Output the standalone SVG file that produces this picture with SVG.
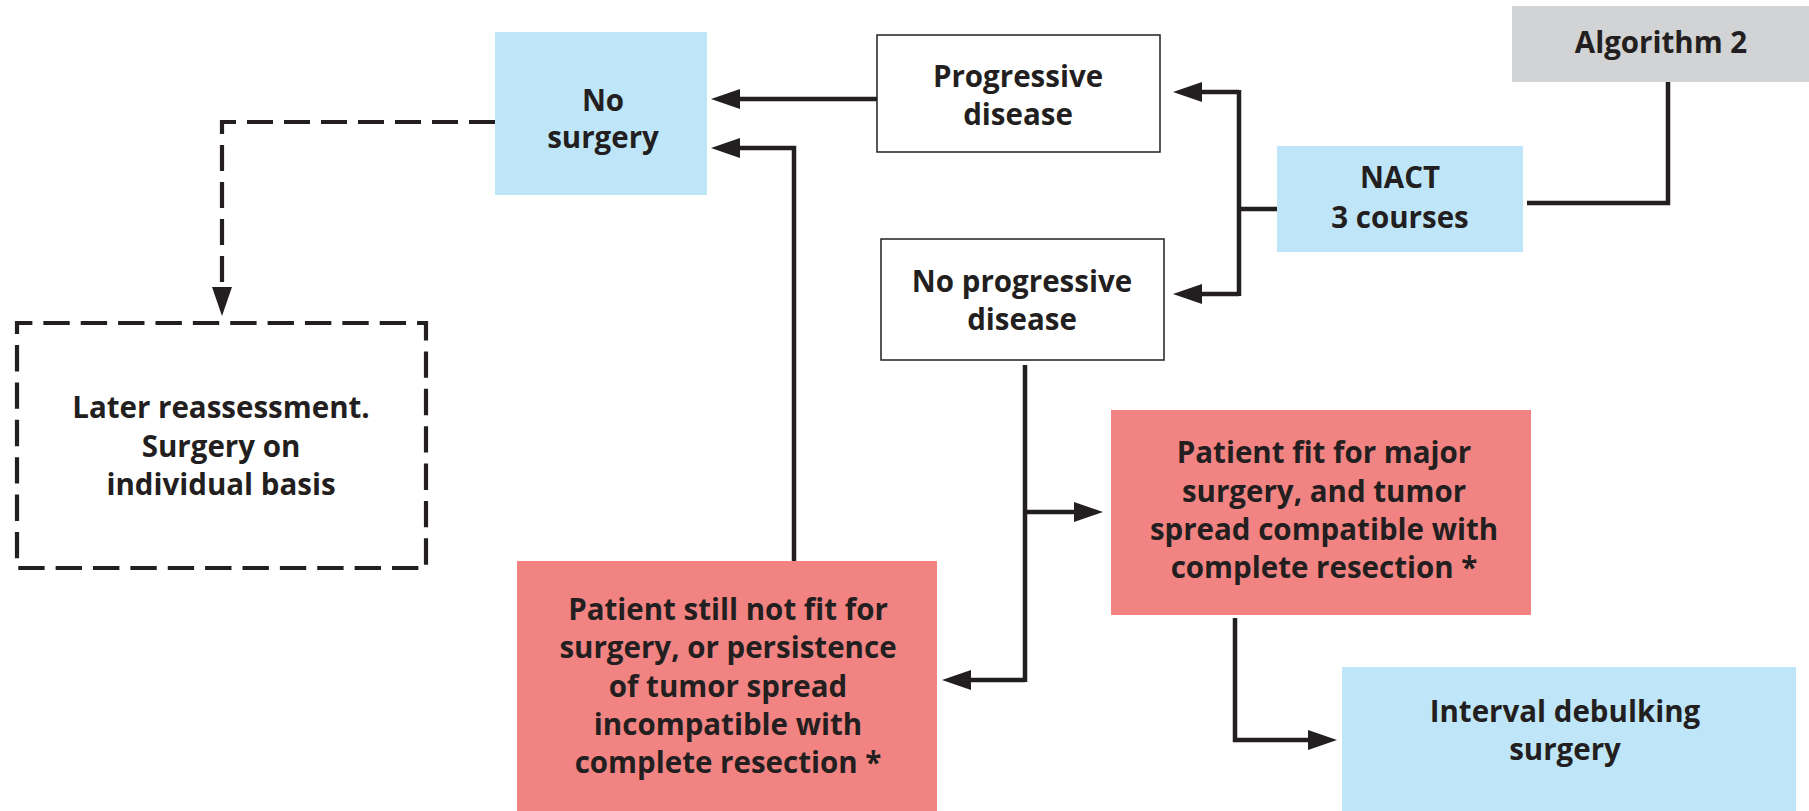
<svg xmlns="http://www.w3.org/2000/svg" width="1809" height="811" viewBox="0 0 1809 811">
<style>
.t{font-family:"Open Sans","Noto Sans","Liberation Sans",sans-serif;font-weight:700;font-size:29.5px;fill:#231f20;text-anchor:middle}
.blue{fill:#bfe6f8}
.pink{fill:#f18482}
.gray{fill:#d1d3d4}
.white{fill:#ffffff;stroke:#231f20;stroke-width:1.5}
.dashbox{fill:none;stroke:#231f20;stroke-width:4.2;stroke-dasharray:26.37 11;stroke-dashoffset:11}
.c{fill:none;stroke:#231f20;stroke-width:4.5}
.ca{fill:none;stroke:#231f20;stroke-width:4.5;marker-end:url(#ah)}
.cd{fill:none;stroke:#231f20;stroke-width:4.2;stroke-dasharray:26 11;marker-end:url(#ah)}
</style>
<defs>
<marker id="ah" markerUnits="userSpaceOnUse" markerWidth="30" markerHeight="22" viewBox="0 0 30 22" refX="2" refY="11" orient="auto">
<path d="M0,1 L29,11 L0,21 Z" fill="#231f20"/>
</marker>
</defs>
<rect width="1809" height="811" fill="#ffffff"/>
<g id="connectors">
<polyline class="c" points="1668,82 1668,203 1527,203"/>
<polyline class="c" points="1277,209 1239,209"/>
<polyline class="c" points="1239,90 1239,296"/>
<polyline class="ca" points="1239,92 1200,92"/>
<polyline class="ca" points="1239,294 1200,294"/>
<polyline class="ca" points="877,99 738,99"/>
<polyline class="c" points="1025,365 1025,682"/>
<polyline class="ca" points="1025,512 1076,512"/>
<polyline class="ca" points="1025,680 969,680"/>
<polyline class="ca" points="794,561 794,148 738,148"/>
<polyline class="ca" points="1235,618 1235,740 1310,740"/>
<polyline class="cd" points="495,122 222,122 222,289"/>
</g>
<g id="algorithm2">
<rect class="gray" x="1512" y="6" width="297" height="76"/>
<text class="t" x="1661" y="53">Algorithm 2</text>
</g>
<g id="nact">
<rect class="blue" x="1277" y="146" width="246" height="106"/>
<text class="t" x="1400" y="188">NACT</text>
<text class="t" x="1400" y="228">3 courses</text>
</g>
<g id="progressive">
<rect class="white" x="877" y="35" width="283" height="117"/>
<text class="t" x="1018" y="87">Progressive</text>
<text class="t" x="1018" y="125">disease</text>
</g>
<g id="no-progressive">
<rect class="white" x="881" y="239" width="283" height="121"/>
<text class="t" x="1022" y="292">No progressive</text>
<text class="t" x="1022" y="330">disease</text>
</g>
<g id="no-surgery">
<rect class="blue" x="495" y="32" width="212" height="163"/>
<text class="t" x="603" y="111">No</text>
<text class="t" x="603" y="148">surgery</text>
</g>
<g id="later-reassessment">
<rect class="dashbox" x="17" y="323" width="409" height="245"/>
<text class="t" x="221" y="418">Later reassessment.</text>
<text class="t" x="221" y="457">Surgery on</text>
<text class="t" x="221" y="495">individual basis</text>
</g>
<g id="not-fit">
<rect class="pink" x="517" y="561" width="420" height="250"/>
<text class="t" x="728" y="620">Patient still not fit for</text>
<text class="t" x="728" y="658">surgery, or persistence</text>
<text class="t" x="728" y="697">of tumor spread</text>
<text class="t" x="728" y="735">incompatible with</text>
<text class="t" x="728" y="773">complete resection *</text>
</g>
<g id="fit">
<rect class="pink" x="1111" y="410" width="420" height="205"/>
<text class="t" x="1324" y="463">Patient fit for major</text>
<text class="t" x="1324" y="502">surgery, and tumor</text>
<text class="t" x="1324" y="540">spread compatible with</text>
<text class="t" x="1324" y="578">complete resection *</text>
</g>
<g id="interval-debulking">
<rect class="blue" x="1342" y="667" width="454" height="144"/>
<text class="t" x="1565" y="722">Interval debulking</text>
<text class="t" x="1565" y="760">surgery</text>
</g>
</svg>
